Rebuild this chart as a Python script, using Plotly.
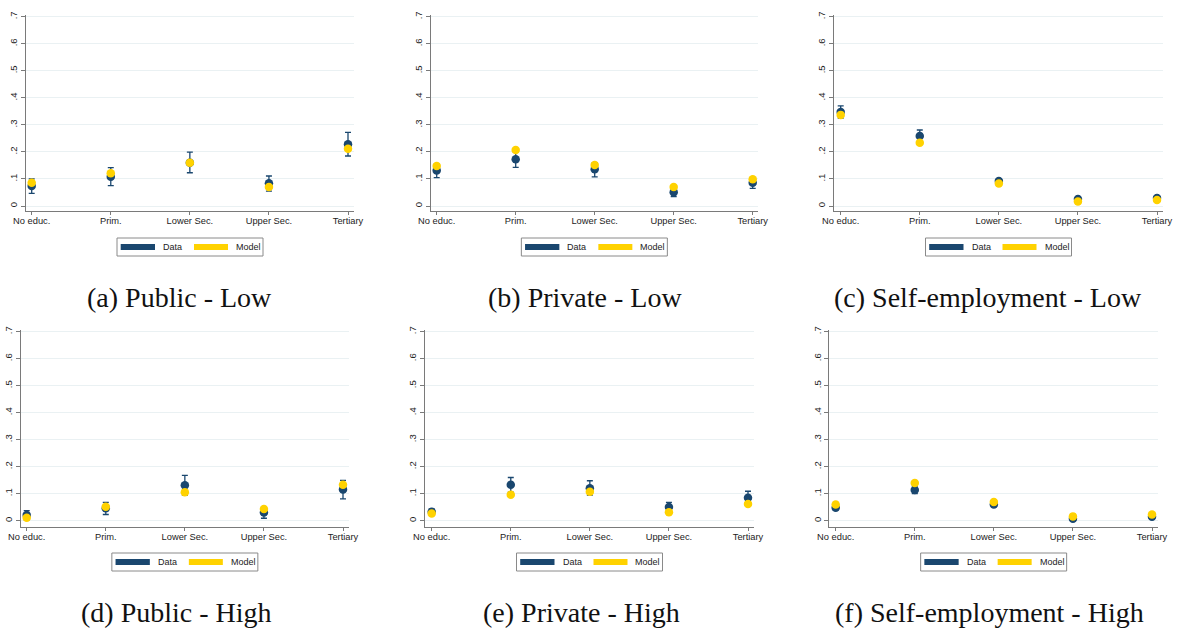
import plotly.graph_objects as go

W, H = 1180, 630

categories = ["No educ.", "Prim.", "Lower Sec.", "Upper Sec.", "Tertiary"]
y_tick_vals = [0, 0.1, 0.2, 0.3, 0.4, 0.5, 0.6, 0.7]
y_tick_text = ["0", ".1", ".2", ".3", ".4", ".5", ".6", ".7"]

captions = ["(a) Public - Low", "(b) Private - Low", "(c) Self-employment - Low",
            "(d) Public - High", "(e) Private - High", "(f) Self-employment - High"]

# Data point estimates, confidence bounds, and model predictions
data_a = [0.074, 0.108, 0.160, 0.084, 0.228]
hi_a = [0.100, 0.142, 0.199, 0.111, 0.272]
lo_a = [0.047, 0.075, 0.123, 0.055, 0.185]
model_a = [0.086, 0.121, 0.160, 0.070, 0.212]

data_b = [0.131, 0.173, 0.136, 0.051, 0.086]
hi_b = [0.155, 0.200, 0.160, 0.066, 0.105]
lo_b = [0.105, 0.143, 0.108, 0.035, 0.065]
model_b = [0.148, 0.207, 0.152, 0.070, 0.099]

data_c = [0.348, 0.259, 0.092, 0.026, 0.030]
hi_c = [0.370, 0.281, 0.100, 0.032, 0.035]
lo_c = [0.325, 0.238, 0.085, 0.020, 0.025]
model_c = [0.337, 0.234, 0.083, 0.017, 0.022]

data_d = [0.021, 0.046, 0.131, 0.030, 0.116]
hi_d = [0.037, 0.068, 0.168, 0.052, 0.149]
lo_d = [0.003, 0.023, 0.094, 0.009, 0.081]
model_d = [0.011, 0.052, 0.105, 0.043, 0.133]

data_e = [0.033, 0.133, 0.120, 0.051, 0.085]
hi_e = [0.044, 0.160, 0.148, 0.068, 0.109]
lo_e = [0.021, 0.106, 0.095, 0.033, 0.064]
model_e = [0.027, 0.096, 0.107, 0.031, 0.062]

data_f = [0.048, 0.114, 0.060, 0.007, 0.015]
hi_f = [0.056, 0.128, 0.066, 0.014, 0.020]
lo_f = [0.040, 0.100, 0.055, 0.001, 0.010]
model_f = [0.060, 0.140, 0.069, 0.016, 0.023]

panels = [
    (data_a, hi_a, lo_a, model_a),
    (data_b, hi_b, lo_b, model_b),
    (data_c, hi_c, lo_c, model_c),
    (data_d, hi_d, lo_d, model_d),
    (data_e, hi_e, lo_e, model_e),
    (data_f, hi_f, lo_f, model_f),
]

NAVY = "#1a476f"
GOLD = "#ffd200"
GRID = "#eaf1f3"
AXIS = "#7a7a7a"

# layout geometry in pixels: (axis left, plot right, first tick, last tick)
xgeo = [(26, 354, 31.7, 348), (430.7, 758, 436.7, 752.7), (834, 1163, 840.7, 1157),
        (20.7, 349, 26.7, 343), (425, 754, 431.7, 748), (829.3, 1158, 835.7, 1152)]
# rows: (top px, bottom axis px, zero px, px per unit)
ygeo = [(15, 210.7, 206, 270.4), (330, 526.7, 520.7, 270.0)]
legend_y = [(238, 256), (553, 571)]
caption_y = [297, 612]
caption_x = [179, 585, 988, 176, 581, 989]

fig = go.Figure()
layout = dict(width=W, height=H, margin=dict(l=0, r=0, t=0, b=0, autoexpand=False),
              paper_bgcolor="white", plot_bgcolor="white", showlegend=False,
              font=dict(family="Liberation Sans, Arial", color="#222"))
shapes = []
annotations = []

for i, (d, hi, lo, m) in enumerate(panels):
    row = i // 3
    xL, xR, t0, t4 = xgeo[i]
    yT, yB, y0, sc = ygeo[row]
    s = (t4 - t0) / 4
    xr = [-(t0 - xL) / s, 4 + (xR - t4) / s]
    yr = [-(yB - y0) / sc, (y0 - yT) / sc]
    xa = "x" if i == 0 else f"x{i+1}"
    ya = "y" if i == 0 else f"y{i+1}"
    xk = "xaxis" if i == 0 else f"xaxis{i+1}"
    yk = "yaxis" if i == 0 else f"yaxis{i+1}"
    xs = list(range(len(categories)))
    fig.add_trace(go.Scatter(
        x=xs, y=d, mode="markers", xaxis=xa, yaxis=ya, name="Data",
        marker=dict(color=NAVY, size=8.5),
        error_y=dict(type="data", symmetric=False,
                     array=[h - v for h, v in zip(hi, d)],
                     arrayminus=[v - l for l, v in zip(lo, d)],
                     color=NAVY, thickness=1.3, width=3)))
    fig.add_trace(go.Scatter(
        x=xs, y=m, mode="markers", xaxis=xa, yaxis=ya, name="Model",
        marker=dict(color=GOLD, size=8.5)))
    layout[xk] = dict(domain=[xL / W, xR / W], range=xr, anchor=ya, automargin=False,
                      tickmode="array", tickvals=xs, ticktext=categories,
                      showgrid=False, zeroline=False, showline=True,
                      linecolor=AXIS, linewidth=1, ticks="outside", ticklen=3.5,
                      ticklabelstandoff=-2,
                      tickcolor=AXIS, tickfont=dict(size=9.3, color="#222"),
                      fixedrange=True)
    layout[yk] = dict(domain=[1 - yB / H, 1 - yT / H], range=yr, anchor=xa, automargin=False,
                      tickmode="array", tickvals=y_tick_vals, ticktext=y_tick_text,
                      tickangle=-90, showgrid=True, gridcolor=GRID, gridwidth=1,
                      zeroline=False, showline=True, linecolor=AXIS, linewidth=1,
                      ticks="outside", ticklen=4, tickcolor=AXIS,
                      tickfont=dict(size=9.5, color="#222"), fixedrange=True)
    # legend box
    cx = (xL + xR) / 2
    ly0, ly1 = legend_y[row]
    bx0, bx1 = cx - 73, cx + 73
    shapes.append(dict(type="rect", xref="paper", yref="paper",
                       x0=bx0 / W, x1=bx1 / W, y0=1 - ly1 / H, y1=1 - ly0 / H,
                       line=dict(color="#8a8a8a", width=1), fillcolor="white"))
    ym0, ym1 = (ly0 + ly1) / 2 - 3, (ly0 + ly1) / 2 + 3
    for (k0, k1, col, lab, tx) in [(3.7, 38, NAVY, "Data", 44), (77, 111, GOLD, "Model", 117)]:
        shapes.append(dict(type="rect", xref="paper", yref="paper",
                           x0=(bx0 + k0) / W, x1=(bx0 + k1) / W,
                           y0=1 - ym1 / H, y1=1 - ym0 / H,
                           line=dict(width=0), fillcolor=col))
        annotations.append(dict(xref="paper", yref="paper", x=(bx0 + tx) / W,
                                y=1 - (ly0 + ly1) / 2 / H, text=lab, showarrow=False,
                                xanchor="left", yanchor="middle",
                                font=dict(size=9, color="#222")))
    annotations.append(dict(xref="paper", yref="paper", x=caption_x[i] / W,
                            y=1 - caption_y[row] / H, text=captions[i], showarrow=False,
                            xanchor="center", yanchor="middle",
                            font=dict(family="Liberation Serif, serif", size=28,
                                      color="#111")))

layout["shapes"] = shapes
layout["annotations"] = annotations
fig.update_layout(**layout)
fig.write_html("out.html")
